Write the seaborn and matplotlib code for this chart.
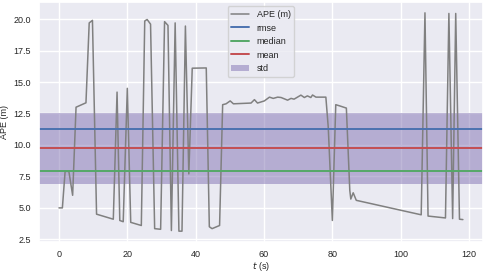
import matplotlib
matplotlib.use("Agg")
import matplotlib.pyplot as plt
import seaborn as sns

# APE over time
t = [0.0, 1.0, 1.8, 2.9, 4.0, 5.0, 7.9, 8.85, 9.8, 11.0, 15.9, 17.0, 17.8, 18.8,
     20.0, 21.0, 24.1, 25.1, 25.8, 26.8, 28.0, 29.75, 30.9, 31.9, 32.9, 34.0,
     35.1, 36.0, 37.0, 38.0, 39.0, 43.1, 44.0, 44.8, 47.0, 47.9, 48.9, 50.1,
     51.05, 56.2, 57.2, 58.1, 60.1, 61.6, 62.7, 64.0, 65.0, 66.9, 67.9, 68.8,
     70.8, 71.8, 72.7, 73.7, 74.2, 75.2, 78.1, 78.8, 80.0, 81.0, 82.2, 84.1,
     85.1, 85.4, 86.1, 87.0, 106.0, 107.1, 108.0, 113.1, 114.1, 115.2, 116.1,
     117.2, 118.2]
ape = [5.0, 5.0, 7.9, 7.9, 6.0, 13.0, 13.35, 19.7, 19.9, 4.5, 4.1, 14.2, 4.0, 3.9,
       14.5, 3.85, 3.6, 19.85, 19.97, 19.6, 3.35, 3.3, 19.8, 19.5, 3.2, 19.7,
       3.15, 3.15, 19.45, 7.7, 16.1, 16.12, 3.5, 3.35, 3.6, 13.2, 13.27, 13.5,
       13.27, 13.33, 13.6, 13.33, 13.5, 13.8, 13.7, 13.8, 13.77, 13.56, 13.7, 13.64,
       13.96, 13.77, 13.9, 13.77, 13.97, 13.8, 13.8, 11.4, 4.0, 13.2, 13.1, 12.93,
       6.4, 5.7, 6.2, 5.6, 4.45, 20.5, 4.35, 4.2, 20.45, 4.15, 20.45,
       4.1, 4.07]

# statistics
rmse = 11.27
median = 7.97
mean = 9.73
std = 5.6

sns.set_theme(style="darkgrid", palette="deep")
plt.rcParams['font.family'] = ['Liberation Sans', 'DejaVu Sans']
pal = sns.color_palette("deep")

fig, ax = plt.subplots(figsize=(4.85, 2.72), dpi=100)
sns.lineplot(x=t, y=ape, color="gray", linewidth=1.1, label="APE (m)", ax=ax)
ax.axhline(rmse, color=pal[0], linewidth=1.4, label="rmse")
ax.axhline(median, color=pal[2], linewidth=1.4, label="median")
ax.axhline(mean, color=pal[3], linewidth=1.4, label="mean")
ax.axhspan(mean - std / 2, mean + std / 2, color=pal[4], alpha=0.5, linewidth=0, label="std")

ax.set_xlabel("$t$ (s)", fontsize=6.5, labelpad=1)
ax.set_ylabel("APE (m)", fontsize=6.5, labelpad=3)
ax.tick_params(labelsize=6.5, pad=5.5, length=0)
ax.set_xticks([0, 20, 40, 60, 80, 100, 120])
ax.set_xlim(-5.9, 124.1)
ax.legend(loc="upper center", fontsize=6.5, frameon=True)

fig.subplots_adjust(left=0.08, right=0.996, top=0.993, bottom=0.11)
fig.savefig("out.png", dpi=100)
